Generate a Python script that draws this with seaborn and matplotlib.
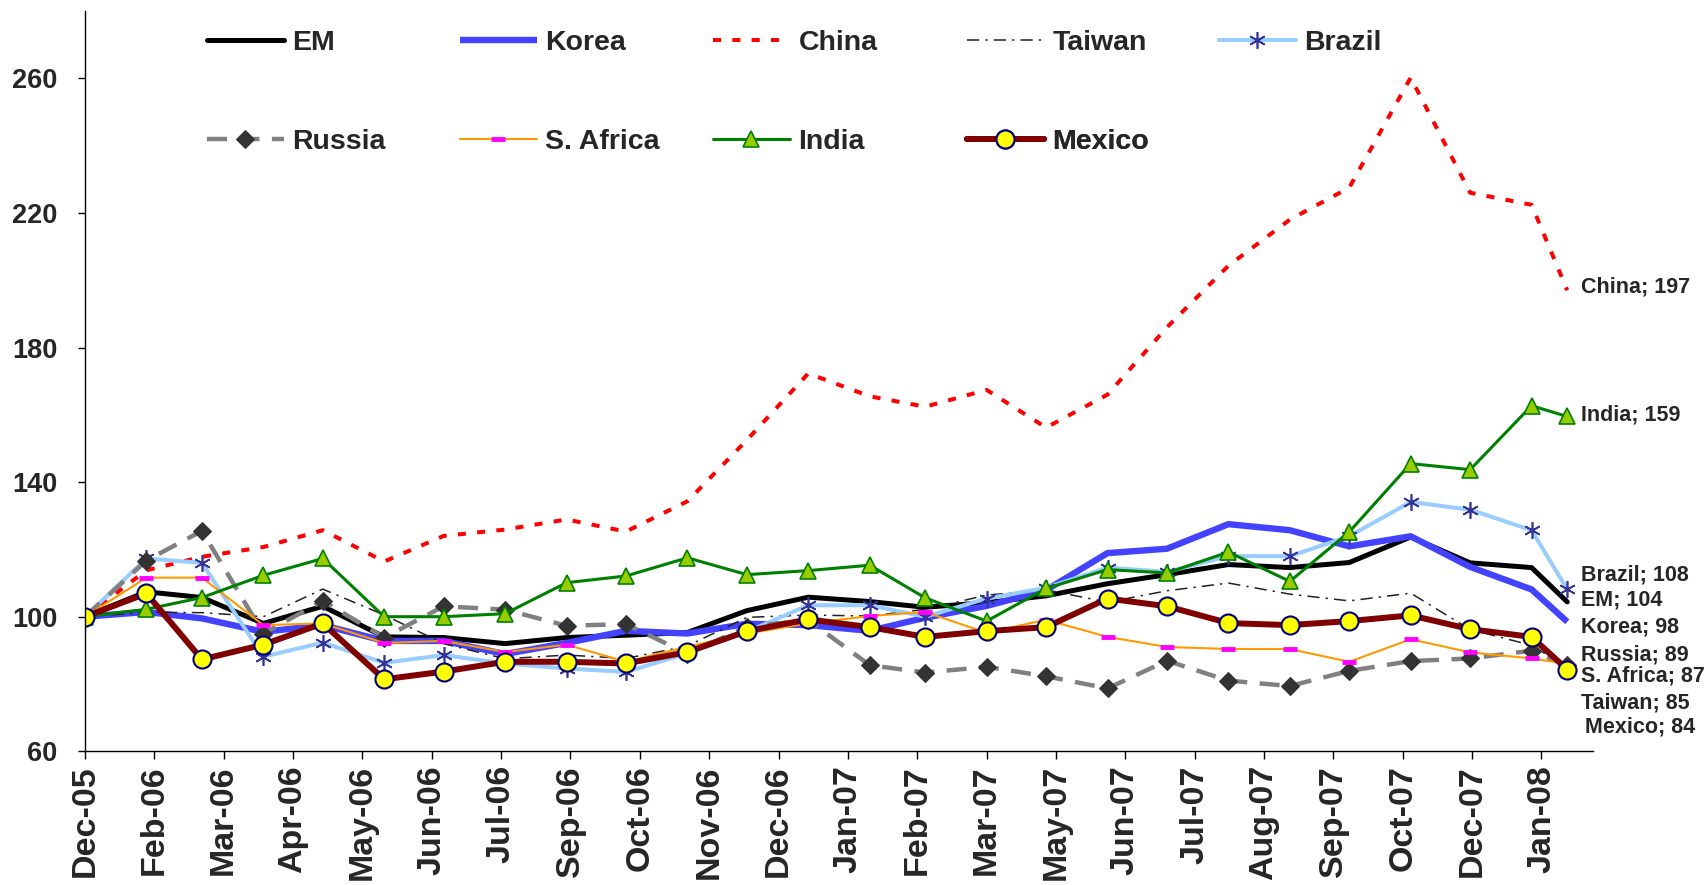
import numpy as np
import pandas as pd
import matplotlib
matplotlib.use("Agg")
import matplotlib.pyplot as plt
import seaborn as sns

# ---------------- data ----------------
dates = list(pd.date_range("2006-01-01", "2008-01-01", freq="MS") - pd.Timedelta(days=1)) + [pd.Timestamp("2008-01-18")]

em = [100, 107.4, 105.7, 98.0, 103.1, 94.0, 93.8, 92.0, 93.8, 94.5, 95.3, 101.8, 105.8,
      104.5, 102.8, 104.2, 106.2, 109.8, 112.5, 115.5, 114.6, 116.1, 123.7, 116.0, 114.6, 104.4]
korea = [100, 101.4, 99.5, 95.5, 97.5, 92.8, 92.8, 88.9, 92.2, 95.8, 95.0, 97.9, 97.5,
         95.8, 99.7, 103.2, 107.9, 118.9, 120.2, 127.5, 125.7, 120.9, 123.9, 114.8, 108.1, 98.5]
china = [100, 113.8, 117.8, 120.7, 125.7, 116.4, 124.0, 125.9, 128.9, 125.3, 134.3, 152.5, 172.3,
         165.5, 162.4, 167.4, 156.2, 166.0, 186.0, 204.3, 218.0, 227.5, 260.2, 226.0, 222.4, 197.0]
taiwan = [100, 101.3, 101.2, 100.0, 108.2, 100.5, 92.0, 87.5, 88.6, 87.6, 91.3, 99.8, 100.5,
          100.2, 102.2, 106.4, 108.0, 104.3, 107.7, 110.0, 106.7, 104.7, 107.0, 96.2, 91.5, 85.0]
brazil = [100, 117.3, 116.0, 88.1, 92.3, 86.3, 88.6, 86.1, 84.6, 83.6, 89.1, 95.5, 103.4,
          103.4, 100.0, 105.4, 108.6, 114.6, 113.3, 118.0, 118.0, 123.9, 134.1, 131.8, 125.7, 108.1]
russia = [100, 116.7, 125.5, 95.0, 104.7, 93.8, 103.1, 102.1, 97.3, 97.8, 89.0, 97.0, 99.0,
          85.6, 83.4, 85.1, 82.3, 78.7, 86.9, 81.0, 79.4, 83.9, 86.8, 87.6, 89.9, 85.5]
safrica = [100, 111.6, 111.6, 97.5, 98.0, 92.2, 92.8, 89.5, 91.7, 86.6, 91.1, 95.0, 98.0,
           100.2, 101.4, 95.2, 99.1, 94.0, 91.0, 90.4, 90.4, 86.6, 93.3, 89.4, 87.6, 86.0]
india = [100, 102.2, 105.7, 112.3, 117.3, 100.0, 100.0, 100.9, 110.1, 112.1, 117.5, 112.5, 113.7,
         115.3, 105.6, 98.7, 108.4, 114.0, 113.0, 119.2, 110.5, 125.2, 145.5, 143.7, 162.7, 159.5]
mexico = [100, 106.9, 87.3, 91.7, 98.0, 81.4, 83.7, 86.6, 86.6, 86.1, 89.5, 95.7, 99.2,
          96.9, 94.0, 95.7, 96.9, 105.4, 103.1, 98.1, 97.5, 98.7, 100.4, 96.3, 94.0, 84.3]

series_names = ["EM", "Korea", "China", "Taiwan", "Brazil", "Russia", "S. Africa", "India", "Mexico"]

tick_labels = ["Dec-05", "Feb-06", "Mar-06", "Apr-06", "May-06", "Jun-06", "Jul-06", "Sep-06",
               "Oct-06", "Nov-06", "Dec-06", "Jan-07", "Feb-07", "Mar-07", "May-07", "Jun-07",
               "Jul-07", "Aug-07", "Sep-07", "Oct-07", "Dec-07", "Jan-08"]
y_ticks = [60, 100, 140, 180, 220, 260]

# end labels (text values) in the order they appear top to bottom
end_names = ["China", "India", "Brazil", "EM", "Korea", "Russia", "S. Africa", "Taiwan", "Mexico"]
end_values = [197, 159, 108, 104, 98, 89, 87, 85, 84]

# ---------------- styling ----------------
sns.set_style("white")
plt.rcParams["font.family"] = ["Liberation Sans", "DejaVu Sans"]

W, H = 1705, 885
fig = plt.figure(figsize=(W / 100, H / 100), dpi=100)
ax = fig.add_axes([85 / W, (H - 751.3) / H, (1593 - 85) / W, (751.3 - 11) / H])

styles = {
    "EM": dict(color="black", linewidth=3.6, solid_joinstyle="round", solid_capstyle="round"),
    "Korea": dict(color="#4343FF", linewidth=4.6, solid_joinstyle="miter", solid_capstyle="butt"),
    "China": dict(color="#FF0000", linewidth=2.9, linestyle=(0, (2, 2.8)), dash_capstyle="butt"),
    "Taiwan": dict(color="#222222", linewidth=1.1, linestyle=(0, (8, 4, 1.5, 4))),
    "Brazil": dict(color="#99CCFF", linewidth=2.9, marker=(6, 2, 0), markersize=12,
                   markeredgecolor="#333399", markerfacecolor="#333399", markeredgewidth=1.2),
    "Russia": dict(color="#808080", linewidth=3.2, linestyle=(0, (4.5, 2.8)), marker="D",
                   markersize=9, markerfacecolor="#333333", markeredgecolor="#333333"),
    "S. Africa": dict(color="#FF9900", linewidth=1.5, marker="_", markersize=10,
                      markeredgecolor="#FF00FF", markeredgewidth=3.5),
    "India": dict(color="#008000", linewidth=2.2, marker="^", markersize=11,
                  markerfacecolor="#99CC00", markeredgecolor="#008000", markeredgewidth=1.2),
    "Mexico": dict(color="#800000", linewidth=4.3, marker="o", markersize=13,
                   markerfacecolor="#FFFF00", markeredgecolor="#000080", markeredgewidth=1.5,
                   solid_joinstyle="round"),
}
values = {"EM": em, "Korea": korea, "China": china, "Taiwan": taiwan, "Brazil": brazil,
          "Russia": russia, "S. Africa": safrica, "India": india, "Mexico": mexico}

handles = {}
for name in series_names:
    df = pd.DataFrame({"date": dates, "value": values[name]})
    n_before = len(ax.get_lines())
    sns.lineplot(data=df, x="date", y="value", ax=ax, legend=False, **styles[name])
    handles[name] = ax.get_lines()[n_before]

# axes
tick_dates = pd.date_range("2005-12-31", periods=len(tick_labels), freq="35D")
ax.set_xlim(pd.Timestamp("2005-12-31"), pd.Timestamp("2008-01-31"))
ax.set_ylim(60, 280)
ax.set_xticks(tick_dates)
ax.set_xticklabels(tick_labels, rotation=90,
                   fontdict=dict(family="Liberation Sans", weight="bold", size=24.5))
ax.set_yticks(y_ticks)
ax.set_yticklabels([str(v) for v in y_ticks],
                   fontdict=dict(family="Liberation Sans", weight="bold", size=19.5))
ax.set_xlabel("")
ax.set_ylabel("")
ax.tick_params(axis="x", direction="out", length=6, width=1, color="black", pad=4, bottom=True)
ax.tick_params(axis="y", direction="out", length=5, width=1, color="black", pad=15, left=True)
for s in ["top", "right"]:
    ax.spines[s].set_visible(False)
for s in ["left", "bottom"]:
    ax.spines[s].set_color("black")
    ax.spines[s].set_linewidth(1.0)
ax.grid(False)

# legend: two rows, placed column by column
col_x = [207, 460, 713, 967, 1219]
row_y = [43, 142]
rows = [["EM", "Korea", "China", "Taiwan", "Brazil"], ["Russia", "S. Africa", "India", "Mexico"]]
for r, names in enumerate(rows):
    for c, name in enumerate(names):
        leg = ax.legend([handles[name]], [name], loc="center left",
                        bbox_to_anchor=(col_x[c] / W, 1 - row_y[r] / H),
                        bbox_transform=fig.transFigure, frameon=False, borderpad=0,
                        borderaxespad=0, handlelength=2.7, handletextpad=0.3, numpoints=1,
                        prop=dict(family="Liberation Sans", weight="bold", size=20.5))
        ax.add_artist(leg)

# end-of-series labels
label_y = [198.0, 160.0, 112.3, 105.1, 96.8, 88.6, 82.3, 74.4, 67.1]
label_x = [pd.Timestamp("2008-01-25")] * 8 + [pd.Timestamp("2008-01-27")]
for name, val, lx, ly in zip(end_names, end_values, label_x, label_y):
    ax.text(lx, ly, f"{name}; {val}", ha="left", va="center", fontsize=15.5,
            fontweight="bold", family="Liberation Sans", clip_on=False)

fig.savefig("out.png", dpi=100)
